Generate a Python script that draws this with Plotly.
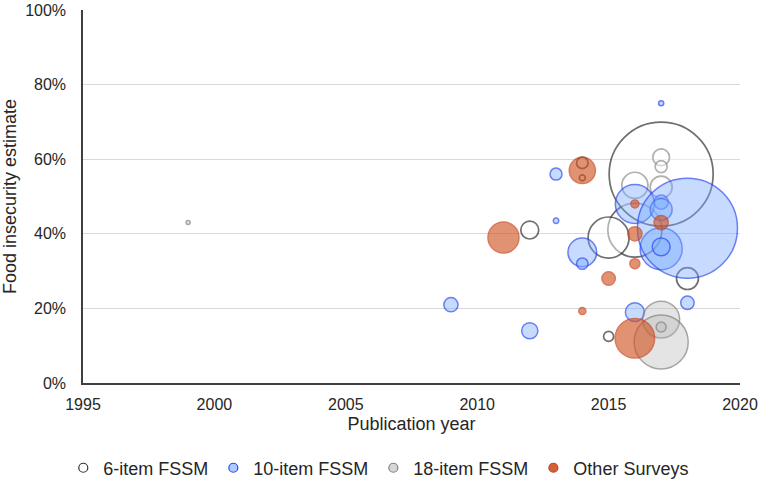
import plotly.graph_objects as go

# ---------------- data ----------------
# 6-item FSSM
six_year = [2016, 2016, 2017, 2017, 2017, 2014, 2014, 2012, 2015, 2018, 2015, 2017]
six_est = [0.41, 0.53, 0.605, 0.58, 0.525, 0.59, 0.55, 0.41, 0.39, 0.28, 0.125, 0.56]
six_n = [14600, 3400, 1400, 720, 2400, 650, 180, 1600, 8400, 2400, 500, 54000]

# 10-item FSSM
ten_year = [2009, 2012, 2013, 2013, 2014, 2014, 2016, 2017, 2017, 2017, 2017, 2018, 2016, 2018, 2017]
ten_est = [0.21, 0.14, 0.56, 0.435, 0.35, 0.32, 0.48, 0.36, 0.485, 0.465, 0.75, 0.215, 0.19, 0.415, 0.365]
ten_n = [1000, 1300, 720, 150, 4100, 650, 7600, 8800, 1000, 2400, 130, 900, 1800, 50000, 1600]

# 18-item FSSM
eight_year = [1999, 2017, 2017, 2017]
eight_est = [0.43, 0.17, 0.11, 0.15]
eight_n = [80, 6800, 14600, 500]

# Other Surveys
oth_year = [2011, 2014, 2014, 2015, 2016, 2016, 2016, 2017, 2016]
oth_est = [0.39, 0.57, 0.193, 0.28, 0.32, 0.40, 0.48, 0.43, 0.12]
oth_n = [4800, 3400, 250, 900, 500, 1000, 320, 1000, 7800]

series_names = ["6-item FSSM", "10-item FSSM", "18-item FSSM", "Other Surveys"]
x_ticks = [1995, 2000, 2005, 2010, 2015, 2020]
y_ticks = [0, 0.2, 0.4, 0.6, 0.8, 1.0]

# ---------------- styles ----------------
MAX_R = 52  # px radius of the largest bubble
all_n = six_n + ten_n + eight_n + oth_n
sizeref = max(all_n) / (2 * MAX_R ** 2)

styles = [
    dict(fill="rgba(255,255,255,0.65)", line="#333333", legfill="white", lw=1.7),
    dict(fill="rgba(120,170,255,0.6)", line="#2a48f0", legfill="rgb(174,204,255)", lw=1.5),
    dict(fill="rgba(185,185,185,0.55)", line="#808080", legfill="rgb(215,215,215)", lw=1.5),
    dict(fill="rgba(208,84,36,0.9)", line="#c8421a", legfill="rgb(212,98,56)", lw=1.5),
]

data_sets = [
    (six_year, six_est, six_n),
    (ten_year, ten_est, ten_n),
    (eight_year, eight_est, eight_n),
    (oth_year, oth_est, oth_n),
]

FONT = "Liberation Sans, Arial, sans-serif"
fig = go.Figure()

for (xs, ys, ns), st, name in zip(data_sets, styles, series_names):
    fig.add_trace(go.Scatter(
        x=xs, y=ys, mode="markers", name=name, showlegend=False,
        marker=dict(size=ns, sizemode="area", sizeref=sizeref,
                    color=st["fill"], line=dict(color=st["line"], width=st["lw"])),
        hoverinfo="x+y",
    ))

# legend entries
for st, name in zip(styles, series_names):
    fig.add_trace(go.Scatter(
        x=[None], y=[None], mode="markers", name=name, showlegend=True,
        marker=dict(size=9, color=st["legfill"], line=dict(color=st["line"], width=1.2)),
    ))

fig.update_layout(
    width=760, height=483,
    margin=dict(l=83, r=20, t=10, b=100, autoexpand=False),
    plot_bgcolor="white", paper_bgcolor="white",
    font=dict(family=FONT, size=16, color="#262626"),
    showlegend=True,
    legend=dict(orientation="h", x=-0.03, xanchor="left", y=-0.228, yanchor="middle",
                font=dict(size=18, color="#262626"), itemwidth=30,
                traceorder="normal"),
    xaxis=dict(range=[1995, 2020], tickvals=x_ticks, showgrid=False, zeroline=False,
               showline=True, linecolor="#404040", linewidth=2,
               ticks="outside", ticklen=6, tickcolor="white",
               title=dict(text="Publication year", font=dict(size=18), standoff=5)),
    yaxis=dict(range=[0, 1], tickvals=y_ticks, tickformat=".0%", showgrid=True,
               gridcolor="#d9d9d9", gridwidth=1, zeroline=False,
               showline=True, linecolor="#404040", linewidth=1.5,
               ticks="outside", ticklen=12, tickcolor="white",
               title=dict(text="Food insecurity estimate", font=dict(size=18), standoff=7)),
)

fig.write_html("out.html", config={"displayModeBar": False},
               post_script="document.body.style.margin='0';")
